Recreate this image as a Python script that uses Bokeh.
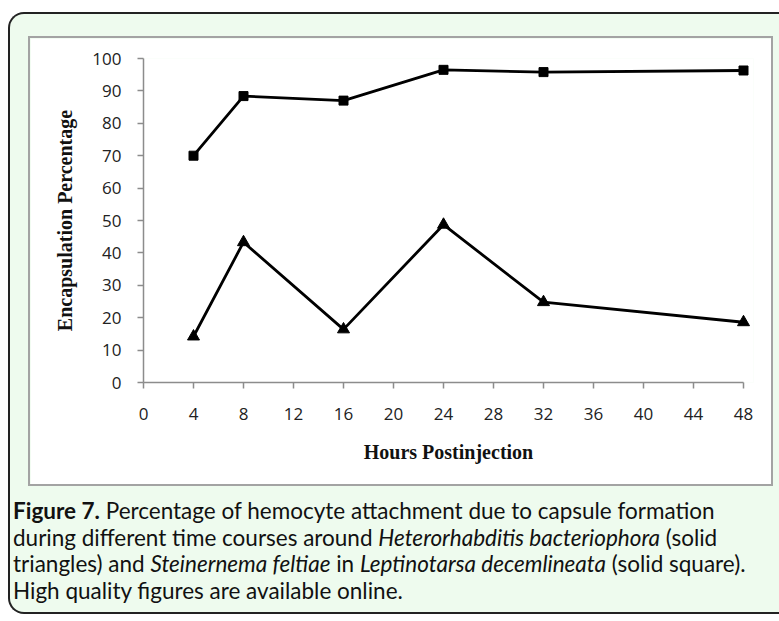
from bokeh.plotting import figure
from bokeh.models import Range1d, FixedTicker, Div
from bokeh.layouts import column
from bokeh.embed import file_html
from bokeh.resources import INLINE

# ---- data ----
hours = [4, 8, 16, 24, 32, 48]
steinernema_pct = [70.0, 88.4, 87.0, 96.5, 95.8, 96.3]      # solid squares
heterorhabditis_pct = [14.2, 43.3, 16.4, 48.7, 24.8, 18.6]  # solid triangles
x_ticks = [0, 4, 8, 12, 16, 20, 24, 28, 32, 36, 40, 44, 48]
y_ticks = [0, 10, 20, 30, 40, 50, 60, 70, 80, 90, 100]

x_title = "Hours Postinjection"
y_title = "Encapsulation Percentage"
caption_html = ('<b>Figure 7.</b> Percentage of hemocyte attachment due to capsule formation<br>'
                'during different time courses around <i>Heterorhabditis bacteriophora</i> (solid<br>'
                'triangles) and <i>Steinernema feltiae</i> in <i>Leptinotarsa decemlineata</i> (solid square).<br>'
                'High quality figures are available online.')

AXIS_GRAY = "#8c8c8c"

p = figure(width=745, height=450,
           x_range=Range1d(0, 48.8), y_range=Range1d(0, 100),
           output_backend="svg", toolbar_location=None,
           min_border_left=113, min_border_right=22, min_border_top=20, min_border_bottom=106,
           margin=(22, 0, 0, 18),
           styles={"border": "2px solid #a3a3a3"})
p.background_fill_color = "white"
p.border_fill_color = "white"
p.outline_line_color = None
p.grid.grid_line_color = None

for ax in (p.xaxis[0], p.yaxis[0]):
    ax.axis_line_color = AXIS_GRAY
    ax.axis_line_width = 1.5
    ax.major_tick_line_color = AXIS_GRAY
    ax.major_tick_line_width = 1.5
    ax.major_tick_in = 0
    ax.major_tick_out = 6
    ax.minor_tick_line_color = None
    ax.major_label_text_font = "Open Sans"
    ax.major_label_text_font_size = "17px"
    ax.major_label_text_color = "#222222"
    ax.axis_label_text_font = "Liberation Serif"
    ax.axis_label_text_font_style = "bold"
    ax.axis_label_text_font_size = "20px"
    ax.axis_label_text_color = "#111111"

p.xaxis.ticker = FixedTicker(ticks=x_ticks)
p.xaxis.bounds = (0, 48)
p.xaxis.axis_label = x_title
p.xaxis.major_label_standoff = 19
p.xaxis.axis_label_standoff = 18

p.yaxis.ticker = FixedTicker(ticks=y_ticks)
p.yaxis.axis_label = y_title
p.yaxis.major_label_standoff = 16
p.yaxis.axis_label_standoff = 13

p.line(hours, steinernema_pct, line_color="black", line_width=2.8)
p.scatter(hours, steinernema_pct, marker="square", size=9, color="black")
p.line(hours, heterorhabditis_pct, line_color="black", line_width=2.8)
p.scatter(hours, heterorhabditis_pct, marker="triangle", size=12, color="black")

cap = Div(text=caption_html, width=766, height=114, margin=(12, 0, 0, 3),
          styles={"font-family": "Lato", "font-size": "22.5px", "line-height": "26.6px",
                  "color": "#111111", "white-space": "nowrap"})

layout = column(p, cap, margin=(12, 0, 0, 8),
                styles={"background-color": "#eefbee",
                        "border-top": "2px solid #222222", "border-left": "2px solid #222222",
                        "border-bottom": "2px solid #222222", "border-right": "none",
                        "border-top-left-radius": "16px", "border-bottom-left-radius": "16px"})

open("out.html", "w").write(file_html(layout, INLINE))
